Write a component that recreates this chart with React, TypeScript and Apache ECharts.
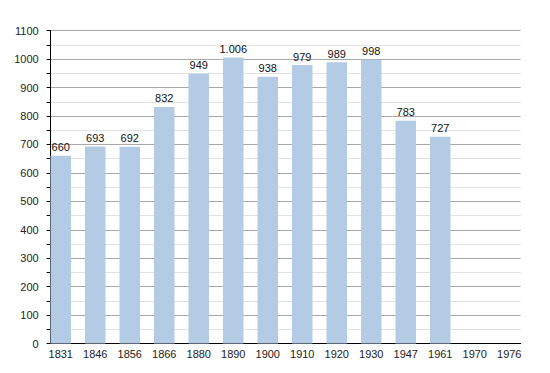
import React, { useEffect, useRef } from "react";
import * as echarts from "echarts";

const years = ["1831", "1846", "1856", "1866", "1880", "1890", "1900", "1910", "1920", "1930", "1947", "1961", "1970", "1976"];
const population: (number | null)[] = [660, 693, 692, 832, 949, 1006, 938, 979, 989, 998, 783, 727, null, null];
const yMin = 0;
const yMax = 1100;
const yStep = 100;

const FONT = "'Liberation Sans', Arial, Helvetica, sans-serif";

function fmt(v: number): string {
  const s = String(v);
  return s.replace(/\B(?=(\d{3})+(?!\d))/g, ".");
}

export default function App() {
  const ref = useRef<HTMLDivElement>(null);
  useEffect(() => {
    if (!ref.current) return;
    const chart = echarts.init(ref.current, null, { renderer: "svg" });
    const top = 30.7;
    const bottom = 29.5;
    chart.setOption({
      animation: false,
      backgroundColor: "#ffffff",
      grid: [
        { left: 43.5, right: 23.5, top, bottom },
        { left: 50.7, right: 29.3, top, bottom },
      ],
      xAxis: [
        {
          type: "category",
          gridIndex: 0,
          data: years,
          axisLine: { show: false },
          axisTick: { show: false },
          axisLabel: { color: "#222", fontFamily: FONT, fontSize: 11, margin: 5, interval: 0 },
          splitLine: { show: false },
        },
        {
          type: "category",
          gridIndex: 1,
          data: years,
          axisLine: { show: true, lineStyle: { color: "#000", width: 1 } },
          axisTick: { show: false },
          axisLabel: { show: false },
          splitLine: { show: false },
        },
      ],
      yAxis: [
        {
          type: "value",
          gridIndex: 0,
          min: yMin,
          max: yMax,
          interval: yStep,
          axisLine: { show: false },
          axisTick: { show: false },
          axisLabel: { show: false },
          splitLine: { show: false },
        },
        {
          type: "value",
          gridIndex: 1,
          min: yMin,
          max: yMax,
          interval: yStep,
          axisLine: { show: true, lineStyle: { color: "#000", width: 1 } },
          axisTick: { show: true, length: 4, lineStyle: { color: "#000" } },
          minorTick: { show: true, splitNumber: 2, length: 4, lineStyle: { color: "#000" } },
          axisLabel: {
            color: "#222",
            fontFamily: FONT,
            fontSize: 11,
            margin: 12,
            formatter: (v: number) => String(v),
          },
          splitLine: { show: true, lineStyle: { color: "#a8a8a8", width: 1 } },
          minorSplitLine: { show: true, lineStyle: { color: "#e2e2e2", width: 1 } },
        },
      ],
      series: [
        {
          type: "bar",
          xAxisIndex: 0,
          yAxisIndex: 0,
          data: population,
          barWidth: 20.5,
          itemStyle: { color: "#b3cbe5" },
          label: {
            show: true,
            position: "top",
            distance: 3,
            color: "#111",
            fontFamily: FONT,
            fontSize: 11,
            formatter: (p: any) => (p.value == null ? "" : fmt(p.value)),
          },
          z: 3,
        },
      ],
    });
    return () => chart.dispose();
  }, []);
  return <div ref={ref} style={{ width: 550, height: 373, position: "absolute", left: 0, top: 0 }} />;
}
